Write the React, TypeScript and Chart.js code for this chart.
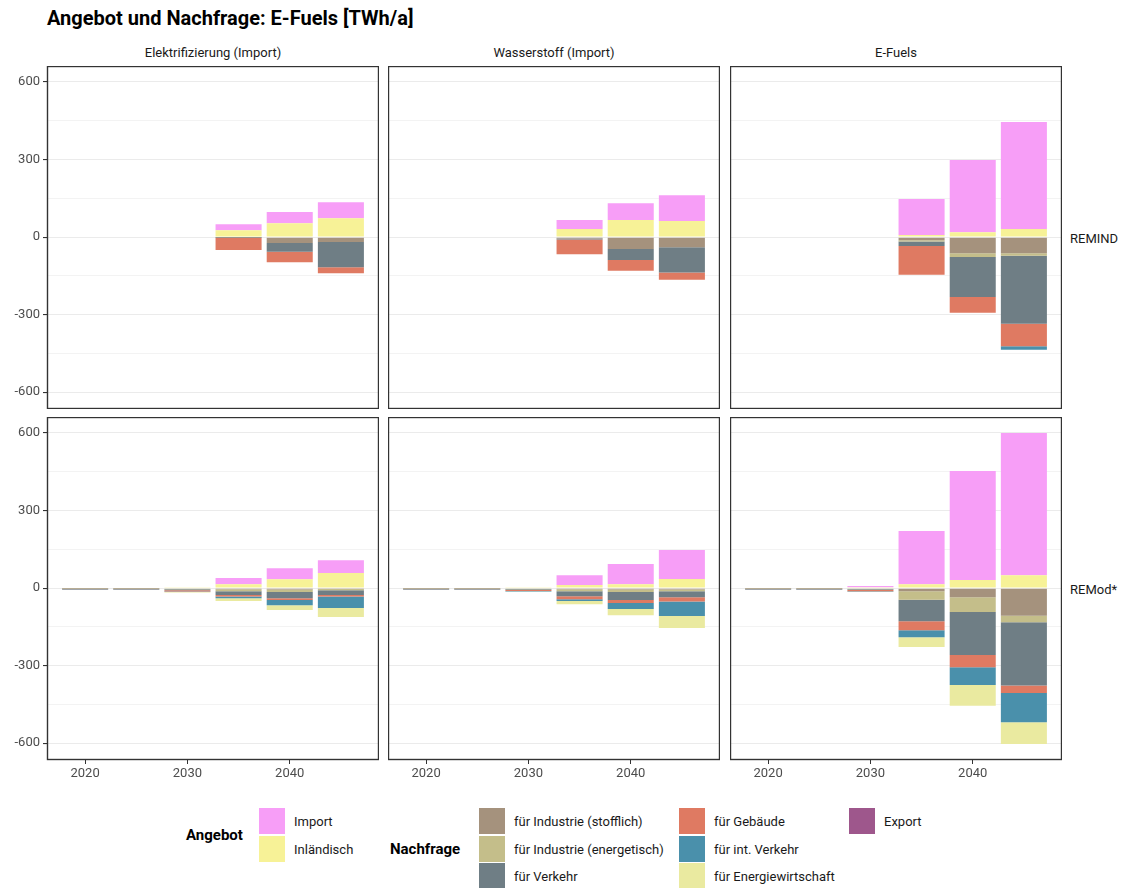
import React, { useEffect, useRef } from "react";
import { Chart, registerables } from "chart.js";
Chart.register(...registerables);

const FONT = '"Liberation Sans Narrow", Roboto, "DejaVu Sans", sans-serif';

const YEARS = [2020, 2025, 2030, 2035, 2040, 2045];
const X_TICKS = [2020, 2030, 2040];
const Y_TICKS = [-600, -450, -300, -150, 0, 150, 300, 450, 600];

const SERIES = [
  "Inländisch",
  "Import",
  "für Industrie (stofflich)",
  "für Industrie (energetisch)",
  "für Verkehr",
  "für Gebäude",
  "für int. Verkehr",
  "für Energiewirtschaft",
  "Export",
];
const COLORS = [
  "#F7F297",
  "#F79EF7",
  "#A5927D",
  "#C4BE8A",
  "#6F7E85",
  "#DF7A62",
  "#4A90AB",
  "#EAEAA0",
  "#9E578C",
];

const COLUMNS = ["Elektrifizierung (Import)", "Wasserstoff (Import)", "E-Fuels"];
const ROWS = ["REMIND", "REMod*"];

const N = null;
// REMIND – Elektrifizierung (Import)
const remElekInl = [N, N, N, 27, 54, 73];
const remElekImp = [N, N, N, 23, 43, 62];
const remElekStoff = [N, N, N, -1, -23, -19];
const remElekEnerg = [N, N, N, 0, 0, 0];
const remElekVerk = [N, N, N, -2, -34, -98];
const remElekGeb = [N, N, N, -47, -40, -23];
const remElekInt = [N, N, N, 0, 0, 0];
const remElekEw = [N, N, N, 0, 0, 0];
const remElekExp = [N, N, N, 0, 0, 0];

// REMIND – Wasserstoff (Import)
const remH2Inl = [N, N, N, 31, 66, 62];
const remH2Imp = [N, N, N, 35, 65, 100];
const remH2Stoff = [N, N, N, -5, -46, -39];
const remH2Energ = [N, N, N, 0, 0, 0];
const remH2Verk = [N, N, N, -4, -43, -98];
const remH2Geb = [N, N, N, -57, -41, -28];
const remH2Int = [N, N, N, 0, 0, 0];
const remH2Ew = [N, N, N, 0, 0, 0];
const remH2Exp = [N, N, N, 0, 0, 0];

// REMIND – E-Fuels
const remEfInl = [N, N, N, 8, 19, 31];
const remEfImp = [N, N, N, 139, 279, 414];
const remEfStoff = [N, N, N, -12, -62, -62];
const remEfEnerg = [N, N, N, -5, -15, -10];
const remEfVerk = [N, N, N, -17, -155, -263];
const remEfGeb = [N, N, N, -112, -61, -87];
const remEfInt = [N, N, N, 0, 0, -14];
const remEfEw = [N, N, N, 0, 0, 0];
const remEfExp = [N, N, N, 0, 0, 0];

// REMod – Elektrifizierung (Import)
const rmdElekInl = [0, 0, 3, 15, 34, 58];
const rmdElekImp = [0, 0, 0, 24, 43, 50];
const rmdElekStoff = [-1, -1, -2, -4, -5, -3];
const rmdElekEnerg = [-1, -1, -2, -8, -10, -5];
const rmdElekVerk = [-2, -2, -4, -15, -24, -19];
const rmdElekGeb = [-1, -1, -5, -5, -7, -5];
const rmdElekInt = [-2, -2, -2, -7, -20, -45];
const rmdElekEw = [0, 0, -2, -11, -19, -35];
const rmdElekExp = [0, 0, 0, 0, 0, 0];

// REMod – Wasserstoff (Import)
const rmdH2Inl = [0, 0, 3, 12, 15, 35];
const rmdH2Imp = [0, 0, 0, 38, 78, 112];
const rmdH2Stoff = [-1, -1, -2, -4, -5, -5];
const rmdH2Energ = [-1, -1, -2, -8, -10, -7];
const rmdH2Verk = [-2, -2, -3, -19, -31, -23];
const rmdH2Geb = [-1, -1, -4, -12, -12, -17];
const rmdH2Int = [-2, -2, -2, -7, -23, -56];
const rmdH2Ew = [0, 0, -1, -12, -24, -46];
const rmdH2Exp = [0, 0, 0, 0, 0, 0];

// REMod – E-Fuels
const rmdEfInl = [0, 0, 3, 15, 31, 50];
const rmdEfImp = [0, 0, 5, 206, 422, 550];
const rmdEfStoff = [-1, -1, -2, -12, -35, -107];
const rmdEfEnerg = [-1, -1, -2, -33, -57, -25];
const rmdEfVerk = [-2, -2, -3, -83, -167, -245];
const rmdEfGeb = [-1, -1, -5, -35, -47, -29];
const rmdEfInt = [-2, -2, -2, -27, -69, -113];
const rmdEfEw = [0, 0, -1, -38, -80, -84];
const rmdEfExp = [0, 0, 0, 0, 0, 0];

const PANELS = [
  [
    [remElekInl, remElekImp, remElekStoff, remElekEnerg, remElekVerk, remElekGeb, remElekInt, remElekEw, remElekExp],
    [remH2Inl, remH2Imp, remH2Stoff, remH2Energ, remH2Verk, remH2Geb, remH2Int, remH2Ew, remH2Exp],
    [remEfInl, remEfImp, remEfStoff, remEfEnerg, remEfVerk, remEfGeb, remEfInt, remEfEw, remEfExp],
  ],
  [
    [rmdElekInl, rmdElekImp, rmdElekStoff, rmdElekEnerg, rmdElekVerk, rmdElekGeb, rmdElekInt, rmdElekEw, rmdElekExp],
    [rmdH2Inl, rmdH2Imp, rmdH2Stoff, rmdH2Energ, rmdH2Verk, rmdH2Geb, rmdH2Int, rmdH2Ew, rmdH2Exp],
    [rmdEfInl, rmdEfImp, rmdEfStoff, rmdEfEnerg, rmdEfVerk, rmdEfGeb, rmdEfInt, rmdEfEw, rmdEfExp],
  ],
];

const PLOT_X = [
  [47, 379],
  [388, 720],
  [730, 1062],
];
const PLOT_Y = [
  [66, 409],
  [417, 760],
];
const Y_LEFT = 47;
const X_AXIS_H = 30;

const borderPlugin = {
  id: "panelBorder",
  afterDraw(chart: any) {
    const { ctx, chartArea } = chart;
    ctx.save();
    ctx.strokeStyle = "#333333";
    ctx.lineWidth = 1.4;
    ctx.strokeRect(chartArea.left + 0.5, chartArea.top + 0.5, chartArea.right - chartArea.left - 1, chartArea.bottom - chartArea.top - 1);
    ctx.restore();
  },
};

function Panel({ row, col }: { row: number; col: number }) {
  const ref = useRef<HTMLCanvasElement>(null);
  const left = PLOT_X[col][0] - (col === 0 ? Y_LEFT : 0);
  const width = PLOT_X[col][1] - left;
  const top = PLOT_Y[row][0];
  const height = PLOT_Y[row][1] - top + (row === 1 ? X_AXIS_H : 0);

  useEffect(() => {
    const series = PANELS[row][col];
    const chart = new Chart(ref.current as HTMLCanvasElement, {
      type: "bar",
      data: {
        datasets: SERIES.map((name, i) => ({
          label: name,
          data: YEARS.map((x, j) => ({ x, y: series[i][j] })),
          backgroundColor: COLORS[i],
          borderWidth: 0,
          barPercentage: 0.9,
          categoryPercentage: 1,
        })),
      },
      options: {
        animation: false,
        responsive: false,
        maintainAspectRatio: false,
        layout: { padding: 0 },
        plugins: { legend: { display: false }, tooltip: { enabled: false } },
        scales: {
          x: {
            type: "linear",
            min: 2016.275,
            max: 2048.725,
            stacked: true,
            offset: false,
            display: row === 1,
            border: { display: false },
            grid: { offset: false, drawOnChartArea: false, drawTicks: true, tickLength: 4, color: "#333333" },
            ticks: {
              font: { family: FONT, size: 13 },
              color: "#4d4d4d",
              padding: 2,
              maxRotation: 0,
              autoSkip: false,
              callback: (v: any) => String(v),
            },
            afterBuildTicks: (s: any) => {
              s.ticks = X_TICKS.map((v) => ({ value: v }));
            },
            afterFit: (s: any) => {
              s.height = row === 1 ? X_AXIS_H : 0;
              s.paddingLeft = 0;
              s.paddingRight = 0;
              s.paddingTop = 0;
              s.paddingBottom = 0;
            },
          },
          y: {
            type: "linear",
            min: -665,
            max: 662,
            stacked: true,
            border: { display: false },
            grid: {
              offset: false,
              color: "#ebebeb",
              lineWidth: (c: any) => (c.tick && c.tick.value % 300 === 0 ? 1.1 : 0.6),
              drawTicks: col === 0,
              tickLength: 4,
              tickColor: (c: any) => (c.tick && c.tick.value % 300 === 0 ? "#333333" : "rgba(0,0,0,0)"),
            },
            ticks: {
              display: col === 0,
              font: { family: FONT, size: 13 },
              color: "#4d4d4d",
              padding: 3,
              callback: (v: any) => (Number(v) % 300 === 0 ? String(v) : ""),
            },
            afterBuildTicks: (s: any) => {
              s.ticks = Y_TICKS.map((v) => ({ value: v }));
            },
            afterFit: (s: any) => {
              s.width = col === 0 ? Y_LEFT : 0;
              s.paddingLeft = 0;
              s.paddingRight = 0;
              s.paddingTop = 0;
              s.paddingBottom = 0;
            },
          },
        },
      } as any,
      plugins: [borderPlugin],
    });
    return () => chart.destroy();
  }, [row, col]);

  return (
    <canvas
      ref={ref}
      width={width}
      height={height}
      style={{ position: "absolute", left, top, width, height }}
    />
  );
}

const txt = (extra: React.CSSProperties): React.CSSProperties => ({
  position: "absolute",
  fontFamily: FONT,
  whiteSpace: "nowrap",
  lineHeight: "1",
  color: "#1a1a1a",
  ...extra,
});

function Swatch({ x, y, color }: { x: number; y: number; color: string }) {
  return <div style={{ position: "absolute", left: x, top: y, width: 26, height: 26, background: color }} />;
}

function LegendItem({ x, y, color, label }: { x: number; y: number; color: string; label: string }) {
  return (
    <>
      <Swatch x={x} y={y} color={color} />
      <div style={txt({ left: x + 35, top: y + 13, transform: "translateY(-50%)", fontSize: 13 })}>{label}</div>
    </>
  );
}

export default function App() {
  return (
    <div style={{ position: "absolute", left: 0, top: 0, width: 1123, height: 888, background: "#ffffff", overflow: "hidden" }}>
      <div style={txt({ left: 47, top: 18, transform: "translateY(-50%)", fontSize: 20, fontWeight: "bold", color: "#000" })}>
        Angebot und Nachfrage: E-Fuels [TWh/a]
      </div>
      {COLUMNS.map((c, i) => (
        <div
          key={c}
          style={txt({
            left: PLOT_X[i][0],
            width: PLOT_X[i][1] - PLOT_X[i][0],
            textAlign: "center",
            top: 52,
            transform: "translateY(-50%)",
            fontSize: 13,
          })}
        >
          {c}
        </div>
      ))}
      {ROWS.map((r, i) => (
        <div
          key={r}
          style={txt({ left: 1070, top: (PLOT_Y[i][0] + PLOT_Y[i][1]) / 2, transform: "translateY(-50%)", fontSize: 13 })}
        >
          {r}
        </div>
      ))}
      {[0, 1].map((r) => [0, 1, 2].map((c) => <Panel key={`${r}-${c}`} row={r} col={c} />))}

      <div style={txt({ left: 186, top: 835, transform: "translateY(-50%)", fontSize: 15, fontWeight: "bold", color: "#000" })}>Angebot</div>
      <LegendItem x={259} y={808} color={COLORS[1]} label={SERIES[1]} />
      <LegendItem x={259} y={836} color={COLORS[0]} label={SERIES[0]} />

      <div style={txt({ left: 390, top: 849, transform: "translateY(-50%)", fontSize: 15, fontWeight: "bold", color: "#000" })}>Nachfrage</div>
      <LegendItem x={479} y={808} color={COLORS[2]} label={SERIES[2]} />
      <LegendItem x={479} y={836} color={COLORS[3]} label={SERIES[3]} />
      <LegendItem x={479} y={863} color={COLORS[4]} label={SERIES[4]} />
      <LegendItem x={679} y={808} color={COLORS[5]} label={SERIES[5]} />
      <LegendItem x={679} y={836} color={COLORS[6]} label={SERIES[6]} />
      <LegendItem x={679} y={863} color={COLORS[7]} label={SERIES[7]} />
      <LegendItem x={849} y={808} color={COLORS[8]} label={SERIES[8]} />
    </div>
  );
}
